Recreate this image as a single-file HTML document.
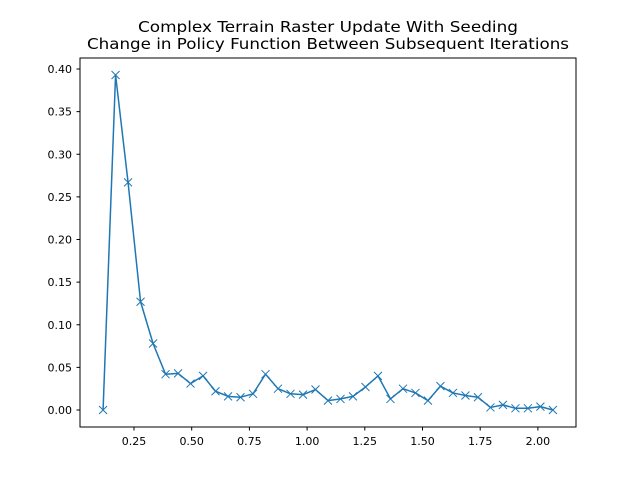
<!DOCTYPE html>
<html><head><meta charset="utf-8"><style>
body{margin:0;background:#fff}
svg{display:block;font-family:"DejaVu Sans","Liberation Sans",sans-serif}
</style></head><body>
<svg id="chart" width="640" height="480">
<rect width="640" height="480" fill="#fff"/>
<text x="328" y="32" font-size="15" text-anchor="middle" textLength="380" lengthAdjust="spacingAndGlyphs">Complex Terrain Raster Update With Seeding</text>
<text x="328" y="49" font-size="15" text-anchor="middle" textLength="482" lengthAdjust="spacingAndGlyphs">Change in Policy Function Between Subsequent Iterations</text>
<g id="plot"></g>
<rect x="80" y="58" width="496" height="369" fill="none" stroke="#000" stroke-width="1"/>
</svg>
<script>
const yValues=[0.000,0.393,0.267,0.127,0.078,0.042,0.043,0.031,0.040,0.022,0.016,0.015,0.019,0.042,0.025,0.019,0.018,0.024,0.011,0.013,0.016,0.027,0.040,0.013,0.025,0.020,0.011,0.028,0.020,0.017,0.015,0.003,0.006,0.002,0.002,0.004,0.000];
const xStart=0.116, xStep=0.05414;
const xTicks=[0.25,0.50,0.75,1.00,1.25,1.50,1.75,2.00];
const xTickLabels=["0.25","0.50","0.75","1.00","1.25","1.50","1.75","2.00"];
const yTicks=[0,0.05,0.10,0.15,0.20,0.25,0.30,0.35,0.40];
const yTickLabels=["0.00","0.05","0.10","0.15","0.20","0.25","0.30","0.35","0.40"];
const NS="http://www.w3.org/2000/svg";
const sx=v=>134+(v-0.25)*230.8;
const sy=v=>410-v*852.5;
const g=document.getElementById('plot');
function mk(t,a){const e=document.createElementNS(NS,t);for(const k in a)e.setAttribute(k,a[k]);g.appendChild(e);return e;}
xTicks.forEach((v,i)=>{
 const l=mk('line',{x1:sx(v),x2:sx(v),y1:427,y2:430.5,stroke:'#000'});
 
 
 const t=mk('text',{x:sx(v),y:445,'font-size':'11','text-anchor':'middle'});
 t.textContent=xTickLabels[i];
 
 
});
yTicks.forEach((v,i)=>{
 const l=mk('line',{x1:76.5,x2:80,y1:sy(v),y2:sy(v),stroke:'#000'});
 
 
 const t=mk('text',{x:72,y:sy(v)+4,'font-size':'11','text-anchor':'end'});
 t.textContent=yTickLabels[i];
 
 
});
const pts=yValues.map((v,i)=>[sx(xStart+i*xStep),sy(v)]);
const line=mk('polyline',{points:pts.map(p=>p.join(',')).join(' '),fill:'none',stroke:'#1f77b4','stroke-width':'1.5','stroke-linejoin':'round'});


pts.forEach(p=>{
 const m=mk('path',{d:`M${p[0]-4},${p[1]-4}L${p[0]+4},${p[1]+4}M${p[0]-4},${p[1]+4}L${p[0]+4},${p[1]-4}`,stroke:'#1f77b4','stroke-width':'1'});
 
 
});
</script>
</body></html>
